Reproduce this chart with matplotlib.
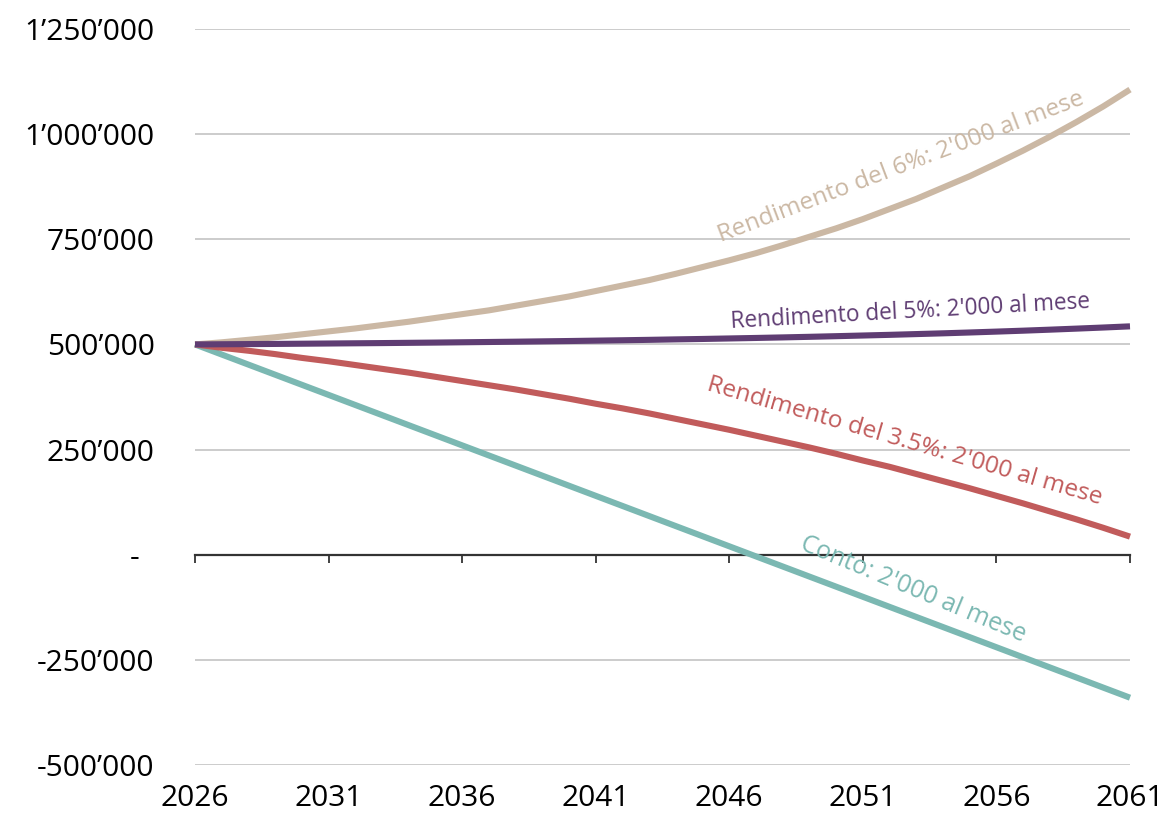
import matplotlib
matplotlib.use("Agg")
import matplotlib.pyplot as plt
from matplotlib.ticker import FuncFormatter

# years and balances (thousands CHF)
years = list(range(2026, 2062))
conto = [500, 476, 452, 428, 404, 380, 356, 332, 308, 284, 260, 236,
         212, 188, 164, 140, 116, 92, 68, 44, 20, -4, -28, -52, -76, -100,
         -124, -148, -172, -196, -220, -244, -268, -292, -316, -340]
rend_35 = [500, 492, 485, 477, 468, 460, 451, 442, 433, 423, 413, 403,
           393, 382, 371, 359, 348, 336, 323, 310, 297, 283, 269, 255, 240,
           224, 209, 192, 175, 158, 140, 122, 103, 84, 64, 43]
rend_5 = [500, 500.4, 500.8, 501.2, 501.7, 502.2, 502.7, 503.2, 503.8, 504.4,
          505.1, 505.8, 506.5, 507.3, 508.1, 509, 509.9, 510.9, 512, 513,
          514.2, 515.4, 516.7, 518.1, 519.6, 521.2, 522.8, 524.6, 526.4,
          528.4, 530.5, 532.7, 535.1, 537.6, 540.2, 543]
rend_6 = [500, 505, 511, 517, 524, 531, 538, 546, 554, 563, 572, 581, 592,
          603, 614, 627, 640, 653, 668, 684, 700, 717, 736, 756, 776, 798,
          822, 846, 873, 900, 930, 961, 994, 1029, 1066, 1106]

labels = ["Rendimento del 6%: 2'000 al mese",
          "Rendimento del 5%: 2'000 al mese",
          "Rendimento del 3.5%: 2'000 al mese",
          "Conto: 2'000 al mese"]
colors = ["#CBB8A4", "#5F3D73", "#C15B5B", "#7BB8B2"]
# label anchor (year, value in thousands) and angle
label_pos = [(2052.5, 908, 20.8), (2052.8, 563, 3.2),
             (2052.5, 255, -16.2), (2052.8, -97, -22.6)]
label_size = [17.6, 16.3, 17.6, 18.0]

yticks = [-500000, -250000, 0, 250000, 500000, 750000, 1000000, 1250000]
xticks = [2026, 2031, 2036, 2041, 2046, 2051, 2056, 2061]

plt.rcParams['font.family'] = ['Open Sans', 'DejaVu Sans']

fig = plt.figure(figsize=(11.62, 8.16), dpi=100)
ax = fig.add_axes([195 / 1162, 1 - 765 / 816, 935 / 1162, 736 / 816])

series = [rend_6, rend_5, rend_35, conto]
order = [conto, rend_35, rend_6, rend_5]
for s in order:
    i = series.index(s)
    ax.plot(years, [v * 1000 for v in s], color=colors[i], lw=4.4,
            solid_capstyle='butt', zorder=3, clip_on=False)

for i, (lx, ly, ang) in enumerate(label_pos):
    ax.text(lx, ly * 1000, labels[i], color=colors[i], fontsize=label_size[i],
            rotation=ang, rotation_mode='anchor', ha='center', va='baseline',
            zorder=4)

ax.set_xlim(2026, 2061)
ax.set_ylim(-500000, 1250000)
ax.set_yticks(yticks)
ax.set_xticks(xticks)


def fmt(v, pos):
    if v == 0:
        return "-  "
    return f"{int(v):,}".replace(",", "\u2019")


ax.yaxis.set_major_formatter(FuncFormatter(fmt))
for s in ax.spines.values():
    s.set_visible(False)
ax.tick_params(axis='both', length=0, labelsize=21.5, colors='black')
ax.tick_params(axis='y', pad=29)
ax.tick_params(axis='x', pad=14)

for y in yticks:
    if y != 0:
        ax.axhline(y, color='#C8C8C8', lw=1.3, zorder=1)

# zero line with downward ticks
zero = ax.secondary_xaxis(0, transform=ax.transData)
zero.set_xticks(xticks)
zero.spines['bottom'].set_color('#333333')
zero.spines['bottom'].set_linewidth(1.6)
zero.tick_params(axis='x', direction='out', length=6, width=1.3,
                 color='#333333', labelbottom=False)

fig.savefig("out.png", dpi=100)
